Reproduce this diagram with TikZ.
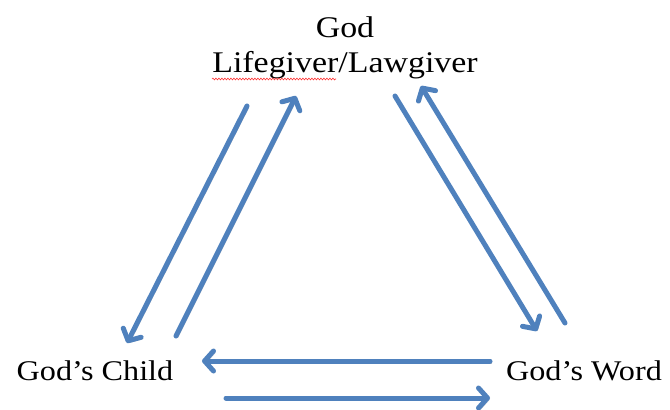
\documentclass[tikz,border=0pt]{standalone}
\usepackage{fontspec}
\setmainfont{Liberation Serif}[FakeStretch=1.13]
\usetikzlibrary{arrows.meta,decorations.pathmorphing}
\definecolor{arrowblue}{HTML}{4F81BD}
\definecolor{shadowgray}{HTML}{C4C4C4}
\tikzset{
  lbl/.style={font=\fontsize{30}{35}\selectfont, inner sep=0pt, anchor=base},
  sidelbl/.style={lbl, font=\fontsize{28.5}{34}\selectfont},
  flow/.style={draw=arrowblue, line width=5pt, line cap=round,
    -{Straight Barb[length=9pt,width=20pt,line cap=round,line join=round]},
    preaction={draw=shadowgray, transform canvas={shift={(1.8pt,-1.8pt)}}}},
  squig/.style={draw=red!80, line width=0.6pt, decorate,
    decoration={snake, amplitude=0.9pt, segment length=3pt}}
}
\begin{document}
\begin{tikzpicture}[x=1pt,y=-1pt]
\useasboundingbox (0,0) rectangle (670,410);
\node[lbl] (god) at (345,37) {God};
\node[lbl] (lg) at (345,72) {Lifegiver/Lawgiver};
\node[sidelbl] (child) at (95,380) {God’s Child};
\node[sidelbl] (word) at (584,380) {God’s Word};
\coordinate (sq1) at (212,79);
\coordinate (sq2) at (336,79);
\draw[squig] (sq1) -- (sq2);
% arrows
\coordinate (a1s) at (247,106); \coordinate (a1e) at (127,343);
\coordinate (a2s) at (176,336); \coordinate (a2e) at (296,96);
\coordinate (a3s) at (395,96);  \coordinate (a3e) at (537,331);
\coordinate (a4s) at (565,323); \coordinate (a4e) at (421,86);
\coordinate (a5s) at (490,361); \coordinate (a5e) at (202,361);
\coordinate (a6s) at (226,398); \coordinate (a6e) at (490,398);
\draw[flow] (a1s) -- (a1e);
\draw[flow] (a2s) -- (a2e);
\draw[flow] (a3s) -- (a3e);
\draw[flow] (a4s) -- (a4e);
\draw[flow] (a5s) -- (a5e);
\draw[flow] (a6s) -- (a6e);
\end{tikzpicture}
\end{document}
